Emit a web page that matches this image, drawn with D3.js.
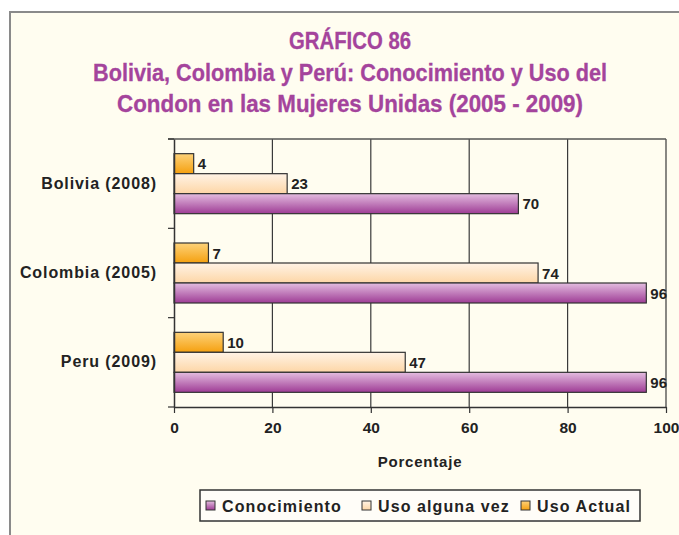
<!DOCTYPE html>
<html>
<head>
<meta charset="utf-8">
<script src="https://cdn.jsdelivr.net/npm/d3@7"></script>
<style>
  html, body { margin: 0; padding: 0; background: #ffffff; }
  svg { display: block; }
</style>
</head>
<body>
<svg id="chart" width="679" height="535"></svg>
<script>
// Condom knowledge and use among women in union, by country and survey year
const categories = ["Bolivia (2008)", "Colombia (2005)", "Peru (2009)"];
const seriesNames = ["Uso Actual", "Uso alguna vez", "Conocimiento"];
const usoActual = [4, 7, 10];
const usoAlgunaVez = [23, 74, 47];
const conocimiento = [70, 96, 96];
const xTicks = [0, 20, 40, 60, 80, 100];
const titleLines = [
  "GRÁFICO 86",
  "Bolivia, Colombia y Perú: Conocimiento y Uso del",
  "Condon en las Mujeres Unidas (2005 - 2009)"
];
const legendOrder = ["Conocimiento", "Uso alguna vez", "Uso Actual"];

const seriesValues = {
  "Uso Actual": usoActual,
  "Uso alguna vez": usoAlgunaVez,
  "Conocimiento": conocimiento
};

const svg = d3.select("#chart");
const defs = svg.append("defs");

// vertical gradients for the bar fills (light top, deeper bottom)
const grads = {
  "Uso Actual": ["#fdd27a", "#f5a00f", "gUso"],
  "Uso alguna vez": ["#fff3e6", "#fdd6a6", "gAlg"],
  "Conocimiento": ["#e4bde0", "#9e3c95", "gCon"]
};
Object.values(grads).forEach(([c1, c2, id]) => {
  const g = defs.append("linearGradient").attr("id", id)
    .attr("x1", 0).attr("y1", 0).attr("x2", 0).attr("y2", 1);
  g.append("stop").attr("offset", "0%").attr("stop-color", c1);
  g.append("stop").attr("offset", "100%").attr("stop-color", c2);
});

// panel background and frame
svg.append("rect").attr("x", 0).attr("y", 0).attr("width", 679).attr("height", 535).attr("fill", "#ffffff");
svg.append("rect").attr("x", 10).attr("y", 12).attr("width", 700).attr("height", 540)
  .attr("fill", "#fffdf0").attr("stroke", "#8a8a8a").attr("stroke-width", 2);

// title
const titleFont = "'Liberation Sans Narrow', 'Arial Narrow', 'Liberation Sans', sans-serif";
const titleY = [49, 81, 112];
const titleW = [122, 514, 466];
titleLines.forEach((t, i) => {
  svg.append("text")
    .attr("x", 350).attr("y", titleY[i])
    .attr("text-anchor", "middle")
    .attr("font-family", titleFont)
    .attr("font-weight", "bold")
    .attr("font-size", 24)
    .attr("fill", "#a4449c")
    .attr("stroke", "#a4449c").attr("stroke-width", 0.3)
    .attr("textLength", titleW[i])
    .attr("lengthAdjust", "spacingAndGlyphs")
    .text(t);
});

// plot geometry
const plot = { left: 174, right: 666, top: 139, bottom: 407 };
const x = d3.scaleLinear().domain([0, 100]).range([plot.left, plot.right]);
const y = d3.scaleBand().domain(categories).range([plot.top, plot.bottom]).paddingInner(0).paddingOuter(0);
const barH = 20;
const inner = d3.scaleBand().domain(seriesNames)
  .range([0, barH * seriesNames.length]);

const font = "'Liberation Sans', Arial, sans-serif";

// vertical grid lines
svg.append("g").selectAll("line").data(xTicks.slice(1)).join("line")
  .attr("x1", d => x(d)).attr("x2", d => x(d))
  .attr("y1", plot.top).attr("y2", plot.bottom)
  .attr("stroke", "#3a3a3a").attr("stroke-width", 1.2);
// top border
svg.append("line").attr("x1", plot.left - 6).attr("x2", plot.right)
  .attr("y1", plot.top).attr("y2", plot.top)
  .attr("stroke", "#555").attr("stroke-width", 1.5);

// bars
const groupOffset = (y.bandwidth() - barH * seriesNames.length) / 2;
seriesNames.forEach(s => {
  const vals = seriesValues[s];
  const g = svg.append("g");
  g.selectAll("rect").data(categories).join("rect")
    .attr("x", x(0))
    .attr("y", (c) => y(c) + groupOffset + inner(s))
    .attr("width", (c, i) => x(vals[i]) - x(0))
    .attr("height", barH)
    .attr("fill", `url(#${grads[s][2]})`)
    .attr("stroke", "#333")
    .attr("stroke-width", 1.2);
  g.selectAll("text").data(categories).join("text")
    .attr("x", (c, i) => x(vals[i]) + 4)
    .attr("y", (c) => y(c) + groupOffset + inner(s) + barH / 2 + 5.5)
    .attr("font-family", font).attr("font-weight", "bold").attr("font-size", 15)
    .attr("fill", "#222")
    .text((c, i) => vals[i]);
});

// y axis
const yAxis = svg.append("g").attr("transform", `translate(${plot.left},0)`)
  .call(d3.axisLeft(y).tickSize(0).tickPadding(17));
yAxis.select(".domain").attr("stroke", "#333").attr("stroke-width", 1.5);
yAxis.selectAll("text").attr("font-family", font).attr("font-weight", "bold")
  .attr("font-size", 16).attr("fill", "#222").attr("letter-spacing", 0.9);
// category separator ticks
svg.append("g").selectAll("line").data([plot.top, ...categories.map(c => y(c) + y.bandwidth())]).join("line")
  .attr("x1", plot.left - 6).attr("x2", plot.left).attr("y1", d => d).attr("y2", d => d)
  .attr("stroke", "#333").attr("stroke-width", 1.2);

// x axis
const xAxis = svg.append("g").attr("transform", `translate(0,${plot.bottom})`)
  .call(d3.axisBottom(x).tickValues(xTicks).tickSize(6).tickPadding(9).tickSizeOuter(0));
xAxis.select(".domain").attr("stroke", "#333").attr("stroke-width", 1.5);
xAxis.selectAll(".tick line").attr("stroke", "#333").attr("stroke-width", 1.2);
xAxis.selectAll("text").attr("font-family", font).attr("font-weight", "bold")
  .attr("font-size", 15.5).attr("fill", "#222");

svg.append("text").attr("x", 420).attr("y", 467).attr("text-anchor", "middle")
  .attr("font-family", font).attr("font-weight", "bold").attr("font-size", 15)
  .attr("letter-spacing", 0.8).attr("fill", "#222").text("Porcentaje");

// legend
const legend = svg.append("g");
legend.append("rect").attr("x", 200).attr("y", 490).attr("width", 440).attr("height", 31)
  .attr("fill", "#fffdf8").attr("stroke", "#333").attr("stroke-width", 1.5);
const legendX = [206, 362, 521];
legendOrder.forEach((s, i) => {
  legend.append("rect").attr("x", legendX[i]).attr("y", 501).attr("width", 9).attr("height", 9)
    .attr("fill", `url(#${grads[s][2]})`).attr("stroke", "#333").attr("stroke-width", 1);
  legend.append("text").attr("x", legendX[i] + 16).attr("y", 511.5)
    .attr("font-family", font).attr("font-weight", "bold").attr("font-size", 16)
    .attr("letter-spacing", 1.1).attr("fill", "#222").text(s);
});
</script>
</body>
</html>
